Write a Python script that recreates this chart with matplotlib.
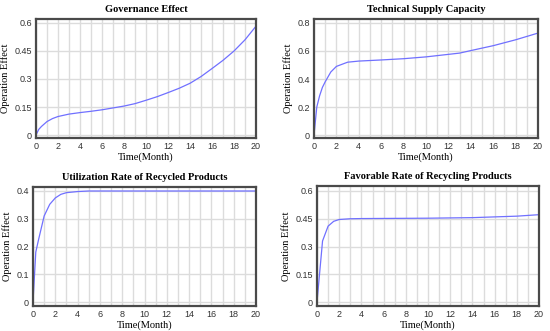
import numpy as np
import matplotlib
matplotlib.use("Agg")
import matplotlib.pyplot as plt
from matplotlib.ticker import MultipleLocator

# months
t_gov = [0, 0.25, 0.5, 1, 1.5, 2, 3, 4, 5, 6, 7, 8, 9, 10, 11, 12, 13, 14, 15, 16, 17, 18, 19, 20]
gov = [0, 0.03, 0.046, 0.072, 0.088, 0.099, 0.112, 0.12, 0.127, 0.135, 0.145, 0.155, 0.168, 0.186,
       0.205, 0.227, 0.25, 0.277, 0.313, 0.356, 0.40, 0.45, 0.51, 0.583]

t_tech = [0, 0.25, 0.5, 0.75, 1, 1.5, 2, 3, 4, 6, 8, 10, 12, 13, 14, 16, 18, 20]
tech = [0, 0.2, 0.28, 0.34, 0.38, 0.45, 0.49, 0.52, 0.528, 0.536, 0.545, 0.558, 0.576, 0.585,
        0.603, 0.638, 0.68, 0.728]

t_util = [0, 0.25, 0.5, 1, 1.5, 2, 2.5, 3, 4, 5, 10, 20]
util = [0, 0.18, 0.225, 0.31, 0.352, 0.375, 0.388, 0.394, 0.398, 0.4, 0.4, 0.4]

t_fav = [0, 0.5, 1, 1.5, 2, 3, 4, 10, 14, 16, 18, 20]
fav = [0, 0.33, 0.41, 0.436, 0.446, 0.45, 0.451, 0.453, 0.456, 0.46, 0.464, 0.472]

titles = ["Governance Effect", "Technical Supply Capacity",
          "Utilization Rate of Recycled Products", "Favorable Rate of Recycling Products"]
yticks = [[0, 0.15, 0.3, 0.45, 0.6], [0, 0.2, 0.4, 0.6, 0.8],
          [0, 0.1, 0.2, 0.3, 0.4], [0, 0.15, 0.3, 0.45, 0.6]]
yticklabels = [["0", "0.15", "0.3", "0.45", "0.6"], ["0", "0.2", "0.4", "0.6", "0.8"],
               ["0", "0.1", "0.2", "0.3", "0.4"], ["0", "0.15", "0.3", "0.45", "0.6"]]
series = [(t_gov, gov), (t_tech, tech), (t_util, util), (t_fav, fav)]

W, H = 550, 331
# axes boxes in pixels: left, top, right, bottom
boxes = [(36, 19, 256, 138), (314, 19, 538, 138), (33, 187, 256, 306), (317, 186, 539, 306)]
# pixel rows of lowest and highest tick, to set y limits
tickrows = [(135, 23), (135, 23), (302, 191), (302, 191)]

fig = plt.figure(figsize=(W / 100, H / 100), dpi=100)
serif = "Liberation Serif"
sans = "Liberation Sans"

for i in range(4):
    l, t, r, b = boxes[i]
    ax = fig.add_axes([l / W, 1 - b / H, (r - l) / W, (b - t) / H])
    x, y = series[i]
    ax.plot(x, y, color="#7070ff", lw=0.9)
    ax.set_xlim(0, 20)
    y0, y1 = tickrows[i]
    lo, hi = yticks[i][0], yticks[i][-1]
    per = (hi - lo) / (y0 - y1)
    ax.set_ylim(lo - (b - y0) * per, hi + (y1 - t) * per)
    ax.set_xticks(range(0, 21, 2))
    ax.xaxis.set_minor_locator(MultipleLocator(1))
    ax.set_yticks(yticks[i])
    ax.set_yticklabels(yticklabels[i])
    ax.grid(True, which="both", axis="x", color="#dcdcdc", lw=1.0)
    ax.grid(True, which="major", axis="y", color="#dcdcdc", lw=1.0)
    ax.set_axisbelow(True)
    ax.tick_params(which="both", length=0, labelsize=6.5, colors="#333333", pad=3)
    for lab in ax.get_xticklabels() + ax.get_yticklabels():
        lab.set_family(sans)
    for s in ax.spines.values():
        s.set_color("#4a4a4a")
        s.set_linewidth(1.6)
    ax.set_title(titles[i], fontsize=7.5, fontweight="bold", family=serif, pad=5)
    ax.set_xlabel("Time(Month)", fontsize=7.5, family=serif, labelpad=1)
    ax.set_ylabel("Operation Effect", fontsize=7.5, family=serif, labelpad=3)

fig.savefig("out.png", dpi=100)
